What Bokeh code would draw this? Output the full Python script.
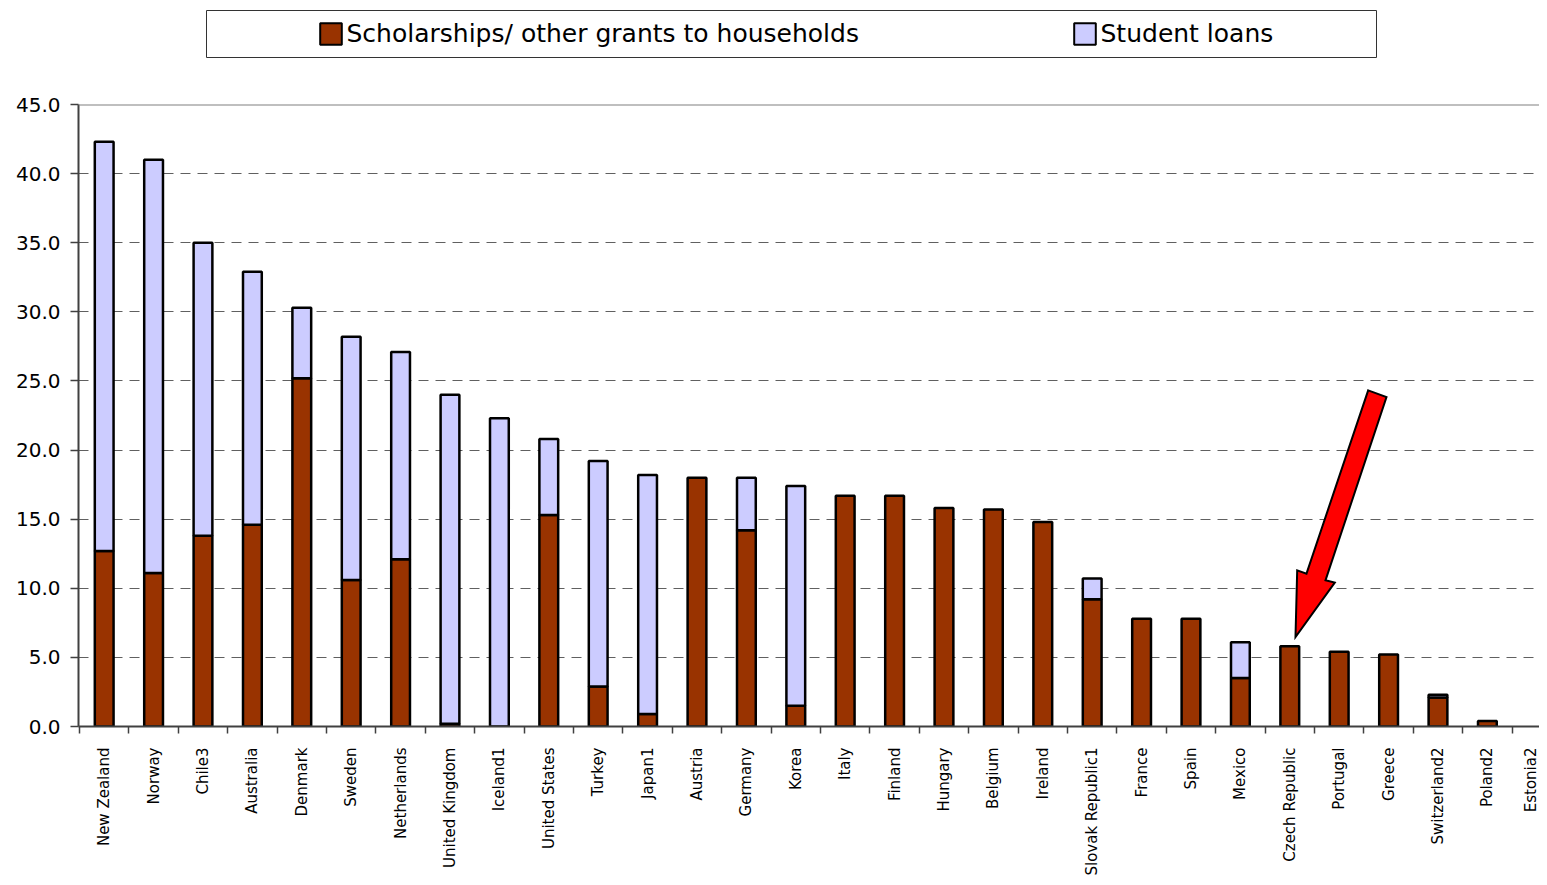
import math
from bokeh.plotting import figure
from bokeh.layouts import column
from bokeh.models import (ColumnDataSource, Range1d, FixedTicker, NumeralTickFormatter,
                          Legend, LegendItem, Span)
from bokeh.embed import file_html
from bokeh.resources import INLINE

# ---------------- data ----------------
countries = ["New Zealand", "Norway", "Chile3", "Australia", "Denmark", "Sweden",
             "Netherlands", "United Kingdom", "Iceland1", "United States", "Turkey",
             "Japan1", "Austria", "Germany", "Korea", "Italy", "Finland", "Hungary",
             "Belgium", "Ireland", "Slovak Republic1", "France", "Spain", "Mexico",
             "Czech Republic", "Portugal", "Greece", "Switzerland2", "Poland2", "Estonia2"]
scholarships = [12.7, 11.1, 13.8, 14.6, 25.2, 10.6, 12.1, 0.2, 0.0, 15.3, 2.9,
                0.9, 18.0, 14.2, 1.5, 16.7, 16.7, 15.8, 15.7, 14.8, 9.2, 7.8, 7.8, 3.5,
                5.8, 5.4, 5.2, 2.1, 0.4, 0.0]
student_loans = [29.6, 29.9, 21.2, 18.3, 5.1, 17.6, 15.0, 23.8, 22.3, 5.5, 16.3,
                 17.3, 0.0, 3.8, 15.9, 0.0, 0.0, 0.0, 0.0, 0.0, 1.5, 0.0, 0.0, 2.6,
                 0.0, 0.0, 0.0, 0.2, 0.0, 0.0]
series_names = ["Scholarships/ other grants to households", "Student loans"]
y_ticks = [0, 5, 10, 15, 20, 25, 30, 35, 40, 45]
highlight = "Czech Republic"

# ---------------- style / layout ----------------
SCH_COLOR = "#993300"
LOAN_COLOR = "#CCCCFF"
W = 1539
TOP_H = 88
FRAME_L = 78
FRAME_W = W - FRAME_L
FRAME_T = 104
FRAME_H = 622
CAT_PX = 49.4
X_START = -0.02
X_END = X_START + FRAME_W / CAT_PX
Y_MAX = 45
BAR_W = 0.38

x = [i + 0.5 for i in range(len(countries))]
totals = [s + l for s, l in zip(scholarships, student_loans)]

si = [i for i, v in enumerate(scholarships) if v > 0]
src_sch = ColumnDataSource(dict(x=[x[i] for i in si], bottom=[0.0] * len(si),
                                top=[scholarships[i] for i in si]))
li = [i for i, v in enumerate(student_loans) if v > 0]
src_loan = ColumnDataSource(dict(x=[x[i] for i in li], bottom=[scholarships[i] for i in li],
                                 top=[totals[i] for i in li]))

p = figure(frame_width=FRAME_W, frame_height=FRAME_H,
           x_range=Range1d(X_START, X_END), y_range=Range1d(0, Y_MAX),
           output_backend="svg", toolbar_location=None,
           min_border_left=FRAME_L, min_border_right=0,
           min_border_top=FRAME_T - TOP_H, min_border_bottom=0)
p.outline_line_color = None
p.background_fill_color = "white"
p.border_fill_color = "white"

p.xgrid.visible = False
p.ygrid.ticker = FixedTicker(ticks=y_ticks)
p.ygrid.grid_line_color = "#606060"
p.ygrid.grid_line_dash = "10 7"
p.ygrid.grid_line_width = 1

p.add_layout(Span(location=Y_MAX, dimension="width", line_color="#808080", line_width=2))

xa = p.xaxis[0]
xa.ticker = FixedTicker(ticks=x, minor_ticks=list(range(0, len(countries) + 1)))
xa.major_label_overrides = {xi: c for xi, c in zip(x, countries)}
xa.major_tick_line_color = None
xa.major_tick_out = 0
xa.major_tick_in = 0
xa.minor_tick_line_color = "#404040"
xa.minor_tick_line_width = 1.5
xa.minor_tick_out = 7
xa.minor_tick_in = 0
xa.axis_line_color = "#404040"
xa.axis_line_width = 2
xa.major_label_orientation = math.pi / 2
xa.major_label_standoff = 14
xa.major_label_text_font = "DejaVu Sans"
xa.major_label_text_font_size = "15px"
xa.major_label_text_color = "black"

ya = p.yaxis[0]
ya.ticker = FixedTicker(ticks=y_ticks)
ya.formatter = NumeralTickFormatter(format="0.0")
ya.major_tick_out = 8
ya.major_tick_in = 0
ya.major_tick_line_color = "#404040"
ya.major_tick_line_width = 1.5
ya.minor_tick_line_color = None
ya.axis_line_color = "#404040"
ya.axis_line_width = 2
ya.major_label_standoff = 10
ya.major_label_text_font = "DejaVu Sans"
ya.major_label_text_font_size = "20px"
ya.major_label_text_color = "black"

r_sch = p.vbar(x="x", bottom="bottom", top="top", width=BAR_W, source=src_sch,
               fill_color=SCH_COLOR, line_color="black", line_width=2.5)
r_loan = p.vbar(x="x", bottom="bottom", top="top", width=BAR_W, source=src_loan,
                fill_color=LOAN_COLOR, line_color="black", line_width=2.5)

# red block arrow pointing at the highlighted bar (shape given in pixel offsets from tip)
k = countries.index(highlight)
sx = CAT_PX
sy = FRAME_H / Y_MAX
tip_x = x[k] + 5.7 / sx
tip_y = totals[k] + 9.3 / sy
arrow_shape = [(72.7, -246.7), (91.0, -240.0), (30.0, -56.7), (39.3, -54.4),
               (0.0, 0.0), (1.7, -66.7), (11.0, -63.4)]
ax = [tip_x + dx / sx for dx, dy in arrow_shape]
ay = [tip_y - dy / sy for dx, dy in arrow_shape]
p.patch(ax, ay, fill_color="#FF0000", line_color="black", line_width=2, line_join="miter")

# ---------------- legend strip (coordinates = canvas pixels) ----------------
t = figure(width=W, height=TOP_H, x_range=Range1d(FRAME_L, W), y_range=Range1d(TOP_H, 0),
           output_backend="svg", toolbar_location=None,
           min_border_left=FRAME_L, min_border_right=0, min_border_top=0, min_border_bottom=0,
           x_axis_location=None, y_axis_location=None)
t.outline_line_color = None
t.background_fill_color = "white"
t.border_fill_color = "white"
t.grid.visible = False
t.quad(left=[206], right=[1376], top=[10], bottom=[57], fill_color="white",
       line_color="#333333", line_width=1)
# swatch renderers for the legend (hidden, only their style is used)
d1 = t.vbar(x=[0], top=[0], width=1, fill_color=SCH_COLOR, line_color="black",
            line_width=2, visible=False)
d2 = t.vbar(x=[0], top=[0], width=1, fill_color=LOAN_COLOR, line_color="black",
            line_width=2, visible=False)

GLYPH = 27


def make_legend(label, rend, left_px):
    return Legend(items=[LegendItem(label=label, renderers=[rend])],
                  location=(left_px - FRAME_L, TOP_H - (34 + GLYPH / 2)),
                  orientation="horizontal", padding=0, margin=0, border_line_color=None,
                  background_fill_alpha=0, glyph_width=GLYPH, glyph_height=GLYPH,
                  label_standoff=3, label_text_font="DejaVu Sans",
                  label_text_font_size="25px", label_text_color="black")


t.add_layout(make_legend(series_names[0], d1, 316.5))
t.add_layout(make_legend(series_names[1], d2, 1070.5))

layout = column(t, p)
open("out.html", "w").write(file_html(layout, INLINE))
